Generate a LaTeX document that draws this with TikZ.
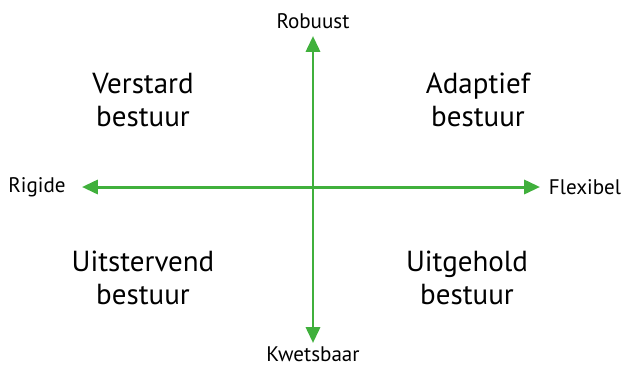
\documentclass[tikz,border=0pt]{standalone}
\usepackage{fontspec}
\setmainfont{PT Sans}
\usetikzlibrary{arrows.meta}
\definecolor{asgroen}{RGB}{64,176,60}
\begin{document}
\begin{tikzpicture} [x=0.02cm, y=-0.02cm, line join=round, >={Triangle[length=9pt,width=8pt]}]
				\useasboundingbox (0,0) rectangle (625,366);
				\tikzset{as/.style={draw=asgroen, line width=1.7pt, <->, color=asgroen},
					eind/.style={font=\fontsize{12}{14}\selectfont, text=black, inner sep=1pt},
					kwadrant/.style={font=\fontsize{16.5}{18.5}\selectfont, align=center, text=black}}
				\coordinate (boven) at (313,36);
				\coordinate (onder) at (313,343);
				\coordinate (links) at (82,187);
				\coordinate (rechts) at (540,187);
				\node[eind] (robuust) at (313,21) {Robuust};
				\node[eind] (kwetsbaar) at (313,354) {Kwetsbaar};
				\node[eind] (rigide) at (37,187) {Rigide};
				\node[eind] (flexibel) at (585,187) {Flexibel};
				\draw[as] (boven)--(onder);
				\draw[as] (links)--(rechts);
				\node[kwadrant] (verstard) at (143,100) {Verstard\\bestuur};
				\node[kwadrant] (adaptief) at (478,100) {Adaptief\\bestuur};
				\node[kwadrant] (uitstervend) at (143,278) {Uitstervend\\bestuur};
				\node[kwadrant] (uitgehold) at (467,278) {Uitgehold\\bestuur};
			\end{tikzpicture}
\end{document}
